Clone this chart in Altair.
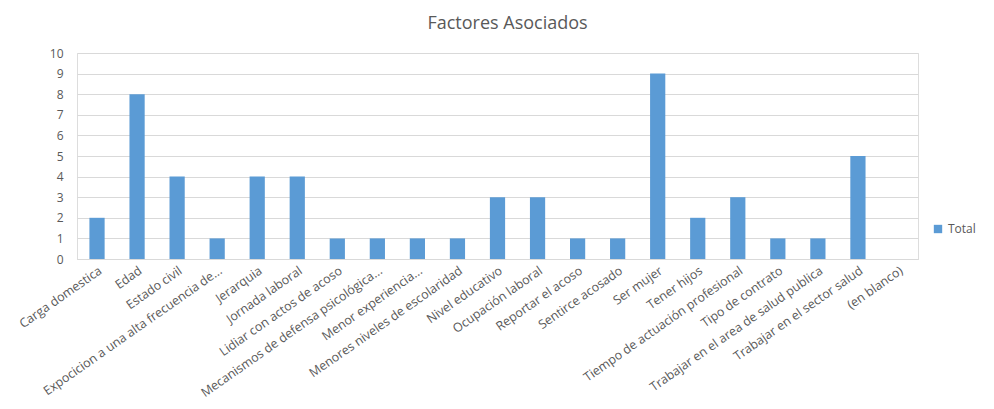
import altair as alt
import pandas as pd

categorias = [
    "Carga domestica", "Edad", "Estado civil", "Expocicion a una alta frecuencia de...",
    "Jerarquia", "Jornada laboral", "Lidiar con actos de acoso",
    "Mecanismos de defensa psicológica...", "Menor experiencia...",
    "Menores niveles de escolaridad", "Nivel educativo", "Ocupación laboral",
    "Reportar el acoso", "Sentirce acosado", "Ser mujer", "Tener hijos",
    "Tiempo de actuación profesional", "Tipo de contrato",
    "Trabajar en el area de salud publica", "Trabajar en el sector salud",
    "(en blanco)",
]
totales = [2, 8, 4, 1, 4, 4, 1, 1, 1, 1, 3, 3, 1, 1, 9, 2, 3, 1, 1, 5, None]
serie = ["Total"] * len(categorias)

df = pd.DataFrame({"Factor": categorias, "Valor": totales, "Serie": serie})

FONT = "Open Sans"
GRAY = "#595959"

chart = (
    alt.Chart(df)
    .mark_bar(color="#5b9bd5")
    .encode(
        x=alt.X(
            "Factor:N",
            sort=categorias,
            scale=alt.Scale(paddingInner=0.62, paddingOuter=0.31),
            axis=alt.Axis(
                title=None, labelAngle=-35, ticks=False, domainColor="#d9d9d9",
                labelColor=GRAY, labelFontSize=12.5, labelFont=FONT, labelLimit=300,
                labelPadding=5,
            ),
        ),
        y=alt.Y(
            "Valor:Q",
            scale=alt.Scale(domain=[0, 10]),
            axis=alt.Axis(
                title=None, values=list(range(0, 11)), domain=False, ticks=False,
                labelColor=GRAY, labelFontSize=12, labelFont=FONT, labelPadding=14,
                gridColor="#d9d9d9",
            ),
        ),
        color=alt.Color(
            "Serie:N",
            scale=alt.Scale(range=["#5b9bd5"]),
            legend=alt.Legend(
                title=None, orient="none", legendX=855, legendY=170,
                symbolType="square", symbolSize=70, labelFontSize=12,
                labelFont=FONT, labelColor=GRAY, symbolStrokeWidth=0,
            ),
        ),
    )
    .properties(
        width=841,
        height=206,
        title=alt.TitleParams(
            "Factores Asociados", fontSize=18, font=FONT, fontWeight="normal",
            color=GRAY, anchor="middle", offset=14, dx=10,
        ),
        padding={"left": 69, "top": 45, "right": 60, "bottom": 160},
        autosize=alt.AutoSizeParams(type="none"),
    )
    .configure_view(stroke=None)
    .configure(background="white")
)

chart.save("out.html", embed_options={"renderer": "svg", "actions": False})
